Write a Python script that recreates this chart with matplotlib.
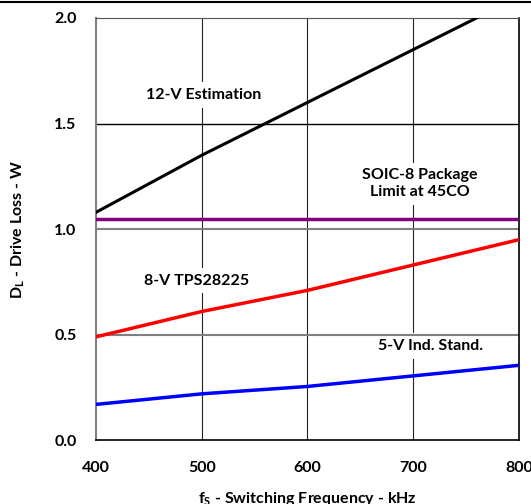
import matplotlib.pyplot as plt
from matplotlib.lines import Line2D

plt.rcParams['font.family'] = ['Lato', 'DejaVu Sans']
plt.rcParams['font.weight'] = 'bold'
plt.rcParams['axes.labelweight'] = 'bold'
plt.rcParams['mathtext.fontset'] = 'custom'
plt.rcParams['mathtext.rm'] = 'Lato:bold'
plt.rcParams['mathtext.bf'] = 'Lato:bold'
plt.rcParams['mathtext.it'] = 'Lato:bold'

freq = [400, 500, 600, 700, 800]
loss_12v = [1.08, 1.35, 1.60, 1.85, 2.10]
loss_8v = [0.49, 0.61, 0.71, 0.83, 0.95]
loss_5v = [0.17, 0.22, 0.255, 0.305, 0.355]
soic8_limit = 1.05

fig = plt.figure(figsize=(5.31, 5.04), dpi=100)
ax = fig.add_axes([0.181, 0.1264, 0.796, 0.8379])

# grid lines
for x in [500, 600, 700]:
    ax.axvline(x, color='#222222', lw=0.8, zorder=1)
ax.axhline(1.5, color='black', lw=1.0, zorder=1)
ax.axhline(1.0, color='#808080', lw=1.5, zorder=1)
ax.axhline(0.5, color='#808080', lw=1.5, zorder=1.5)

ax.plot(freq, loss_12v, color='black', lw=2.2, zorder=3)
ax.plot([400, 800], [soic8_limit, soic8_limit], color='#800080', lw=2.5, zorder=3)
ax.plot(freq, loss_8v, color='#ff0000', lw=2.5, zorder=3)
ax.plot(freq, loss_5v, color='#0000ff', lw=2.5, zorder=3)

box = dict(fc='white', ec='none', pad=4)
fs = 11.5
ax.text(502, 1.635, '12-V Estimation', ha='center', va='center', fontsize=fs, bbox=box, zorder=1.2)
ax.text(706, 1.216, 'SOIC-8 Package\nLimit at 45CO', ha='center', va='center', fontsize=fs,
        linespacing=1.25, bbox=box, zorder=1.2)
ax.text(495, 0.755, '8-V TPS28225', ha='center', va='center', fontsize=fs, bbox=box, zorder=1.2)
ax.text(716, 0.447, '5-V Ind. Stand.', ha='center', va='center', fontsize=fs, bbox=box, zorder=1.2)

ax.set_xlim(400, 800)
ax.set_ylim(0, 2.0)
ax.set_xticks(freq)
ax.set_yticks([0.0, 0.5, 1.0, 1.5, 2.0])
ax.set_yticklabels(['0.0', '0.5', '1.0', '1.5', '2.0'])
ax.tick_params(length=0, labelsize=11.5)
ax.tick_params(axis='x', pad=15)
ax.tick_params(axis='y', pad=14)

ax.spines['left'].set_color('#808080')
ax.spines['top'].set_color('#555555')
ax.spines['left'].set_linewidth(1.5)
ax.spines['bottom'].set_linewidth(1.2)
ax.spines['right'].set_linewidth(1.2)

ax.set_xlabel(r'f$_\mathrm{S}$ - Switching Frequency - kHz', fontsize=11.5, labelpad=11)
ax.set_ylabel(r'D$_\mathrm{L}$ - Drive Loss - W', fontsize=11.5, labelpad=20)

fig.add_artist(Line2D([0, 1], [0.996, 0.996], color='black', lw=1.5))

fig.savefig('out.png', dpi=100)
